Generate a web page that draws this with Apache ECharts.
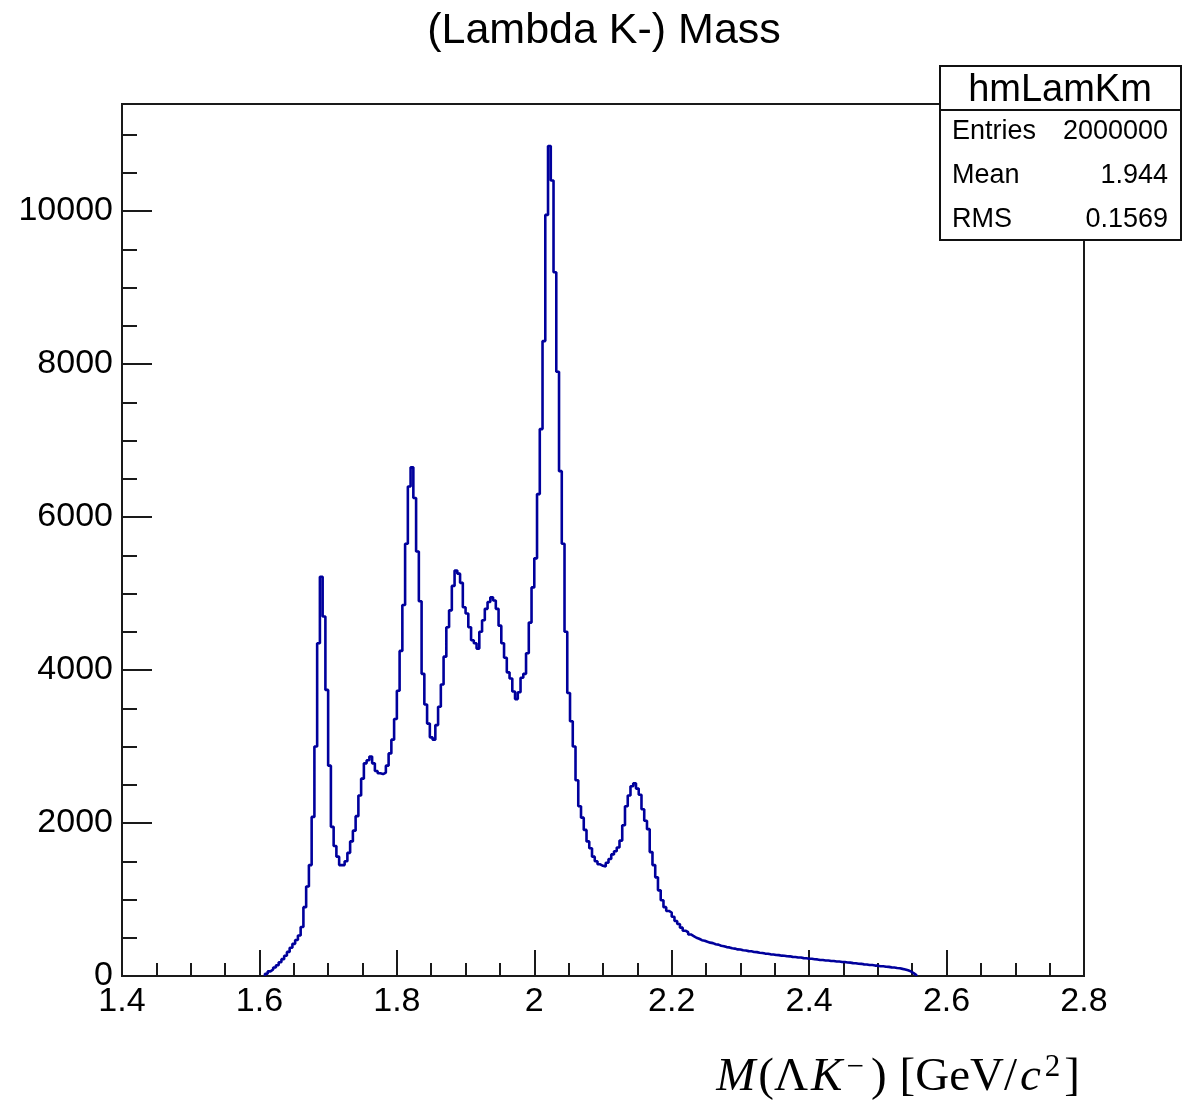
<!DOCTYPE html>
<html>
<head>
<meta charset="utf-8">
<script src="https://cdn.jsdelivr.net/npm/echarts@6/dist/echarts.min.js"></script>
<style>
  html, body { margin: 0; padding: 0; background: #fff; }
  #chart { width: 1195px; height: 1102px; }
</style>
</head>
<body>
<div id="chart"></div>
<script>
// ---- Data ----
const histTitle = "(Lambda K-) Mass";
const statsName = "hmLamKm";
const statsLabels = ["Entries", "Mean", "RMS"];
const statsValues = ["2000000", "1.944", "0.1569"];
const binStart = 1.608;
const binWidth = 0.004;
const counts = [
  30,60,85,112,140,180,220,265,315,370,
  420,470,530,640,900,1170,1450,2080,3000,4350,
  5220,4700,3740,2750,1950,1700,1560,1450,1450,1500,
  1610,1760,1900,2090,2360,2580,2780,2820,2870,2780,
  2680,2650,2640,2660,2750,2910,3090,3360,3730,4250,
  4850,5650,6400,6650,6250,5550,4900,3950,3550,3300,
  3120,3090,3280,3520,3810,4175,4560,4780,5100,5300,
  5260,5140,4820,4740,4560,4390,4350,4280,4500,4650,
  4800,4890,4950,4910,4800,4580,4350,4160,3970,3890,
  3720,3620,3710,3900,3950,4220,4620,5080,5460,6300,
  7150,8300,9950,10850,10400,9200,7900,6600,5650,4500,
  3700,3330,3000,2560,2220,2070,1910,1760,1670,1560,
  1500,1460,1440,1430,1480,1530,1590,1630,1680,1770,
  1970,2220,2360,2480,2520,2450,2370,2180,2030,1920,
  1620,1450,1290,1120,990,900,850,830,775,720,
  680,632,592,572,543,522,500,487,468,460,
  447,436,430,416,410,396,390,378,374,362,
  358,348,346,336,333,325,323,314,312,303,
  301,293,291,283,281,274,273,266,265,258,
  257,250,249,242,241,234,233,226,225,218,
  217,210,209,203,203,196,196,189,189,183,
  183,176,175,168,167,160,159,152,151,144,
  143,136,135,128,127,120,119,113,111,105,
  101,93,86,75,60,38,12
];
const xMin = 1.4, xMax = 2.8, xStep = 0.2;
const yMin = 0, yMax = 11400, yStep = 2000;

// ---- Build step-histogram points from bin edges ----
const edge = i => +(binStart + i * binWidth).toFixed(4);
const histData = [[edge(0), 0]];
counts.forEach((c, i) => histData.push([edge(i), c]));
histData.push([edge(counts.length), 0]);

const chart = echarts.init(document.getElementById('chart'), null, { renderer: 'canvas' });
const axisColor = '#1a1a1a';
const sans = 'Liberation Sans, Arial, Helvetica, sans-serif';
const serif = 'Liberation Serif, "DejaVu Serif", serif';

chart.setOption({
  animation: false,
  backgroundColor: '#ffffff',
  grid: {
    left: 122, right: 111, top: 104, bottom: 126,
    show: true, borderColor: axisColor, borderWidth: 2, backgroundColor: 'transparent'
  },
  xAxis: {
    type: 'value', min: xMin, max: xMax, interval: xStep,
    axisLine: { show: true, onZero: false, lineStyle: { color: axisColor, width: 2 } },
    axisTick: { show: true, inside: true, length: 26, lineStyle: { color: axisColor, width: 2 } },
    minorTick: { show: true, splitNumber: 4, length: 13, lineStyle: { color: axisColor, width: 2 } },
    splitLine: { show: false },
    axisLabel: {
      margin: 9, color: '#000', fontSize: 34, fontFamily: sans,
      formatter: v => String(Number(v.toFixed(1)))
    }
  },
  yAxis: {
    type: 'value', min: yMin, max: yMax, interval: yStep,
    axisLine: { show: true, lineStyle: { color: axisColor, width: 2 } },
    axisTick: { show: true, inside: true, length: 30, lineStyle: { color: axisColor, width: 2 } },
    minorTick: { show: true, splitNumber: 4, length: 15, lineStyle: { color: axisColor, width: 2 } },
    splitLine: { show: false },
    axisLabel: {
      margin: 9, color: '#000', fontSize: 34, fontFamily: sans,
      formatter: v => (v > 10000 ? '' : String(v))
    }
  },
  series: [{
    type: 'line',
    data: histData,
    step: 'end',
    showSymbol: false,
    symbol: 'none',
    lineStyle: { color: '#00009c', width: 2.6 },
    z: 1
  }],
  graphic: [
    {
      type: 'text', z: 100,
      style: {
        text: histTitle, x: 604, y: 31,
        textAlign: 'center', textVerticalAlign: 'middle',
        align: 'center', verticalAlign: 'middle',
        font: '43px ' + sans, fill: '#000'
      }
    },
    {
      type: 'group', z: 100,
      children: [
        { type: 'rect', z: 100, shape: { x: 940, y: 66, width: 241, height: 174 },
          style: { fill: '#fff', stroke: '#111', lineWidth: 2 } },
        { type: 'line', z: 101, shape: { x1: 940, y1: 110, x2: 1181, y2: 110 },
          style: { stroke: '#111', lineWidth: 2 } },
        { type: 'text', z: 102,
          style: { text: statsName, x: 1060, y: 91, textAlign: 'center', textVerticalAlign: 'middle',
                   align: 'center', verticalAlign: 'middle', font: '38px ' + sans, fill: '#000' } },
        ...statsLabels.map((t, i) => ({
          type: 'text', z: 102,
          style: { text: t, x: 952, y: 132 + i * 44, textAlign: 'left', textVerticalAlign: 'middle',
                   align: 'left', verticalAlign: 'middle', font: '27px ' + sans, fill: '#000' }
        })),
        ...statsValues.map((t, i) => ({
          type: 'text', z: 102,
          style: { text: t, x: 1168, y: 132 + i * 44, textAlign: 'right', textVerticalAlign: 'middle',
                   align: 'right', verticalAlign: 'middle', font: '27px ' + sans, fill: '#000' }
        }))
      ]
    },
    {
      type: 'text', z: 100,
      style: {
        text: '{i|M}{n|(Λ}{i|K}{s|−}{p|)}{g| }{n|[GeV/}{i|c}{s|2}{n|]}',
        x: 1081, y: 1078,
        textAlign: 'right', textVerticalAlign: 'middle',
        align: 'right', verticalAlign: 'middle',
        fill: '#000',
        rich: {
          i: { fontFamily: serif, fontStyle: 'italic', fontSize: 47, fill: '#000', color: '#000', padding: [0, 2, 0, 2] },
          n: { fontFamily: serif, fontSize: 47, fill: '#000', color: '#000', padding: [0, 1, 0, 1] },
          p: { fontFamily: serif, fontSize: 47, fill: '#000', color: '#000', padding: [0, 0, 0, 4] },
          g: { fontFamily: serif, fontSize: 47, width: 12 },
          s: { fontFamily: serif, fontSize: 31, fill: '#000', color: '#000', verticalAlign: 'top', padding: [0, 3, 20, 2] }
        }
      }
    }
  ]
});
</script>
</body>
</html>
